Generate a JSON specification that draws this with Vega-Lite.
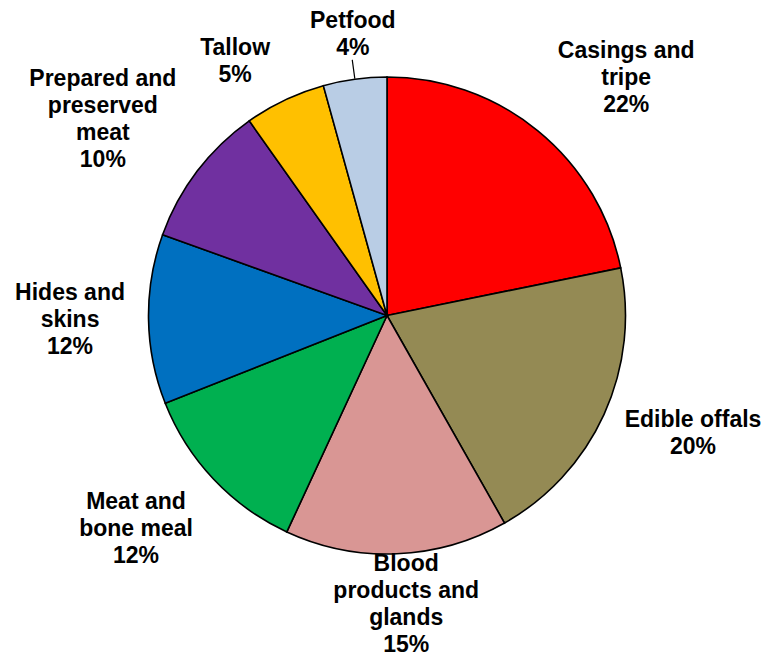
{
  "$schema": "https://vega.github.io/schema/vega-lite/v6.json",
  "width": 764,
  "height": 631,
  "autosize": {"type": "none"},
  "padding": {"left": 5, "top": 0, "right": 0, "bottom": 28},
  "background": "white",
  "config": {"view": {"stroke": null}},
  "data": {
    "values": [
      {"cat": "Casings and tripe", "label": "Casings and\ntripe\n22%", "value": 21.8, "order": 1},
      {"cat": "Edible offals", "label": "Edible offals\n20%", "value": 20.0, "order": 2},
      {"cat": "Blood products and glands", "label": "Blood\nproducts and\nglands\n15%", "value": 15.1, "order": 3},
      {"cat": "Meat and bone meal", "label": "Meat and\nbone meal\n12%", "value": 12.1, "order": 4},
      {"cat": "Hides and skins", "label": "Hides and\nskins\n12%", "value": 11.5, "order": 5},
      {"cat": "Prepared and preserved meat", "label": "Prepared and\npreserved\nmeat\n10%", "value": 9.7, "order": 6},
      {"cat": "Tallow", "label": "Tallow\n5%", "value": 5.5, "order": 7},
      {"cat": "Petfood", "label": "Petfood\n4%", "value": 4.3, "order": 8}
    ]
  },
  "encoding": {
    "theta": {"field": "value", "type": "quantitative", "stack": true},
    "order": {"field": "order", "type": "quantitative"}
  },
  "layer": [
    {
      "mark": {"type": "arc", "radius": 238.5, "stroke": "black", "strokeWidth": 1.6},
      "encoding": {
        "color": {
          "field": "cat",
          "type": "nominal",
          "legend": null,
          "sort": ["Casings and tripe", "Edible offals", "Blood products and glands", "Meat and bone meal", "Hides and skins", "Prepared and preserved meat", "Tallow", "Petfood"],
          "scale": {
            "domain": ["Casings and tripe", "Edible offals", "Blood products and glands", "Meat and bone meal", "Hides and skins", "Prepared and preserved meat", "Tallow", "Petfood"],
            "range": ["#FF0000", "#948A54", "#D99694", "#00B050", "#0070C0", "#7030A0", "#FFC000", "#B9CDE5"]
          }
        }
      }
    },
    {
      "mark": {"type": "arc", "radius": 258, "radius2": 239, "padAngle": 1.2, "fill": null, "strokeWidth": 1.2},
      "encoding": {
        "stroke": {"condition": {"test": "datum.cat === 'Petfood'", "value": "black"}, "value": "transparent"}
      }
    },
    {
      "mark": {"type": "text", "radius": 337, "dx": 26, "dy": -3.5, "lineBreak": "\n", "font": "Liberation Sans", "fontWeight": "bold", "fontSize": 23, "lineHeight": 27, "align": "center", "baseline": "middle", "color": "black"},
      "encoding": {"text": {"condition": {"test": "datum.cat === 'Casings and tripe'", "field": "label"}, "value": ""}}
    },
    {
      "mark": {"type": "text", "radius": 328, "dx": 7.5, "dy": -31, "lineBreak": "\n", "font": "Liberation Sans", "fontWeight": "bold", "fontSize": 23, "lineHeight": 27, "align": "center", "baseline": "middle", "color": "black"},
      "encoding": {"text": {"condition": {"test": "datum.cat === 'Edible offals'", "field": "label"}, "value": ""}}
    },
    {
      "mark": {"type": "text", "radius": 289, "dx": 7.4, "dy": -40.5, "lineBreak": "\n", "font": "Liberation Sans", "fontWeight": "bold", "fontSize": 23, "lineHeight": 27, "align": "center", "baseline": "middle", "color": "black"},
      "encoding": {"text": {"condition": {"test": "datum.cat === 'Blood products and glands'", "field": "label"}, "value": ""}}
    },
    {
      "mark": {"type": "text", "radius": 329.5, "dx": -11.5, "dy": -40, "lineBreak": "\n", "font": "Liberation Sans", "fontWeight": "bold", "fontSize": 23, "lineHeight": 27, "align": "center", "baseline": "middle", "color": "black"},
      "encoding": {"text": {"condition": {"test": "datum.cat === 'Meat and bone meal'", "field": "label"}, "value": ""}}
    },
    {
      "mark": {"type": "text", "radius": 317, "dx": 0, "dy": -27, "lineBreak": "\n", "font": "Liberation Sans", "fontWeight": "bold", "fontSize": 23, "lineHeight": 27, "align": "center", "baseline": "middle", "color": "black"},
      "encoding": {"text": {"condition": {"test": "datum.cat === 'Hides and skins'", "field": "label"}, "value": ""}}
    },
    {
      "mark": {"type": "text", "radius": 345, "dx": -9.6, "dy": -28, "lineBreak": "\n", "font": "Liberation Sans", "fontWeight": "bold", "fontSize": 23, "lineHeight": 27, "align": "center", "baseline": "middle", "color": "black"},
      "encoding": {"text": {"condition": {"test": "datum.cat === 'Prepared and preserved meat'", "field": "label"}, "value": ""}}
    },
    {
      "mark": {"type": "text", "radius": 296, "dx": -25, "dy": -0.5, "lineBreak": "\n", "font": "Liberation Sans", "fontWeight": "bold", "fontSize": 23, "lineHeight": 27, "align": "center", "baseline": "middle", "color": "black"},
      "encoding": {"text": {"condition": {"test": "datum.cat === 'Tallow'", "field": "label"}, "value": ""}}
    },
    {
      "mark": {"type": "text", "radius": 283.5, "dx": 4, "dy": -13.5, "lineBreak": "\n", "font": "Liberation Sans", "fontWeight": "bold", "fontSize": 23, "lineHeight": 27, "align": "center", "baseline": "middle", "color": "black"},
      "encoding": {"text": {"condition": {"test": "datum.cat === 'Petfood'", "field": "label"}, "value": ""}}
    }
  ]
}
